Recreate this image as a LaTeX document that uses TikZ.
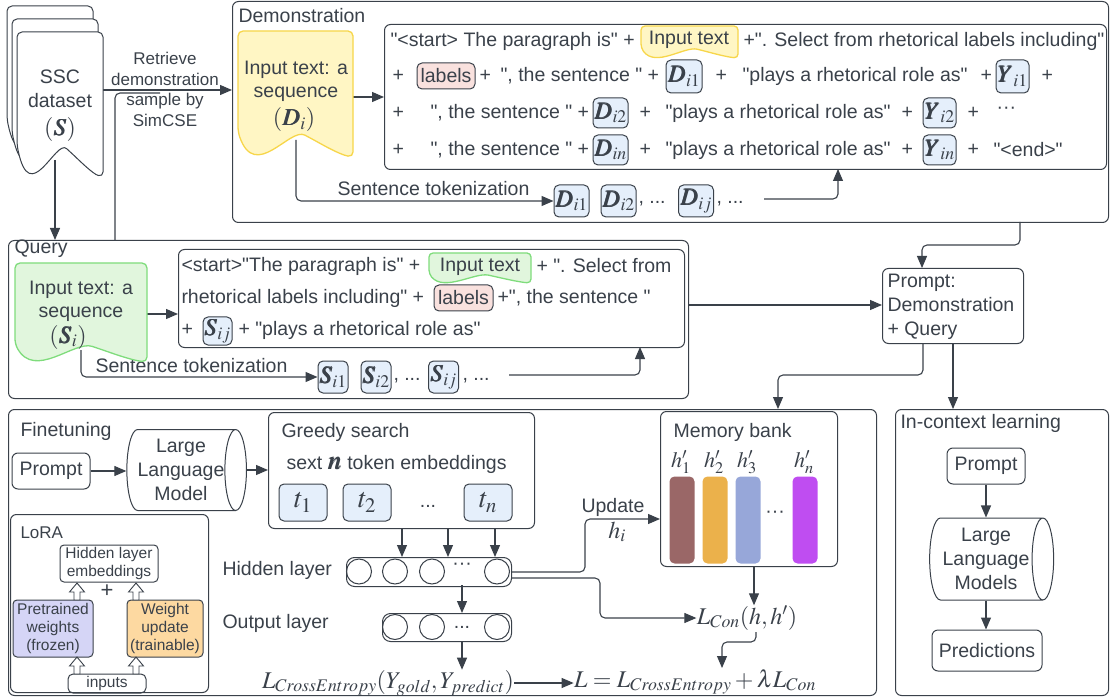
\documentclass[tikz,border=0pt]{standalone}
\usepackage{mathptmx}
\usepackage{bm}
\usepackage{fontspec}
\setmainfont{Liberation Sans}[Ligatures=TeXOff]
\usetikzlibrary{arrows.meta,shapes.geometric,calc}
\definecolor{ink}{HTML}{3A414A}
\definecolor{yfill}{HTML}{FFF6C4}
\definecolor{ybord}{HTML}{F7D64A}
\definecolor{gfill}{HTML}{E1F6DD}
\definecolor{gbord}{HTML}{7FDC7C}
\definecolor{tokfill}{HTML}{E5EFFB}
\definecolor{labfill}{HTML}{F9E1DE}
\definecolor{pfill}{HTML}{D5D5F6}
\definecolor{wfill}{HTML}{FDD9A1}
\definecolor{barA}{HTML}{9A6767}
\definecolor{barB}{HTML}{EBB14B}
\definecolor{barC}{HTML}{97A7D9}
\definecolor{barD}{HTML}{BF4DF1}
% document shape: style, x0, ytop, x1, y right corner, depth of wave
\newcommand{\docshape}[6]{\path[#1] (#2,#3) -- (#4,#3) -- (#4,#5) .. controls ({#2+0.88*(#4-#2)},{#5-0.1*#6}) and ({#2+0.72*(#4-#2)},{#5-0.53*#6}) .. ({#2+0.62*(#4-#2)},{#5-0.78*#6}) .. controls ({#2+0.45*(#4-#2)},{#5-1.2*#6}) and ({#2+0.15*(#4-#2)},{#5+1.0*#6}) .. (#2,{#5-#6}) -- cycle;}
\tikzset{fatup/.pic={\path[draw=ink,fill=white,line width=0.9pt] (-3,0) -- (-3,-8) -- (-7.5,-8) -- (0,-17) -- (7.5,-8) -- (3,-8) -- (3,0) -- cycle;}}
\begin{document}
\begin{tikzpicture}[x=1pt,y=-1pt,color=ink,line width=1pt,
  font=\fontsize{19.5}{23}\selectfont,
  box/.style={draw=ink,rounded corners=6pt,line width=1pt,inner sep=0pt},
  conn/.style={draw=ink,line width=1.1pt,rounded corners=5pt,-{Triangle[length=12pt,width=10pt]}},
  line/.style={draw=ink,line width=1.1pt,rounded corners=5pt},
  lab/.style={inner sep=0pt,anchor=west},
  tag/.style={draw=ink,rounded corners=5pt,line width=1pt,inner sep=0pt},
  tok/.style={draw=ink,fill=tokfill,rounded corners=5pt,line width=1pt,inner sep=0pt,font=\fontsize{24}{24}\selectfont},
  tokt/.style={tok,font=\fontsize{28}{28}\selectfont,minimum width=48pt,minimum height=37pt},
  circ/.style={circle,draw=ink,line width=1pt,minimum size=25pt,inner sep=0pt},
  bar/.style={rounded corners=5pt,minimum width=25pt,minimum height=87pt,anchor=north west,inner sep=0pt},
  cyl/.style={cylinder,draw=ink,line width=1pt,fill=white,shape aspect=0.35,inner sep=0pt,align=center,font=\fontsize{19.5}{24}\selectfont},
  small/.style={font=\fontsize{15.5}{18}\selectfont,align=center},
  mth/.style={inner sep=0pt,font=\fontsize{24}{26}\selectfont}]
\useasboundingbox (0,0) rectangle (1110,700);

% ---------- frames ----------
\node[box,anchor=north west,minimum width=876pt,minimum height=221pt] (demo) at (232,1) {};
\node[box,anchor=north west,minimum width=722pt,minimum height=145pt] (dp) at (384,24) {};
\node[box,anchor=north west,minimum width=680pt,minimum height=158pt] (query) at (8,240) {};
\node[box,anchor=north west,minimum width=506pt,minimum height=98pt] (qp) at (178,249) {};
\node[box,anchor=north west,minimum width=141pt,minimum height=75pt] (pq) at (882,268) {};
\node[box,anchor=north west,minimum width=868pt,minimum height=286pt] (ft) at (8,409) {};
\node[box,anchor=north west,minimum width=213pt,minimum height=286pt] (ic) at (895,409) {};
\node[box,anchor=north west,minimum width=198pt,minimum height=178pt] (lora) at (10,514) {};
\node[box,anchor=north west,minimum width=266pt,minimum height=116pt] (greedy) at (268,412) {};
\node[box,anchor=north west,minimum width=177pt,minimum height=155pt] (mb) at (660,411) {};

% ---------- titles ----------
\node[lab] (demoT) at (238,16) {Demonstration};
\node[lab] (queryT) at (14,249) {Query};
\node[lab] (ftT) at (20,431) {Finetuning};
\node[lab] (icT) at (900,423) {In-context learning};
\node[lab,font=\fontsize{17}{20}\selectfont] (loT) at (20,533) {LoRA};
\node[lab] (gT) at (281,432) {Greedy search};
\node[lab] (mT) at (673,432) {Memory bank};
\node[lab,anchor=north west,align=left,font=\fontsize{19.5}{24}\selectfont] (pqt) at (887,274) {Prompt:\\Demonstration\\+ Query};
\node[align=center,font=\fontsize{17}{20.5}\selectfont] (retr) at (165,89.5) {Retrieve\\demonstration\\sample by\\SimCSE};

% ---------- demonstration prompt rows ----------
\node[lab] (r1a) at (390,41) {"<start> The paragraph is" +};
\node[lab] (r1b) at (743,41) {+". Select from rhetorical labels including"};
\node[lab] (r2a) at (392,76) {+};
\node[tag,fill=labfill,minimum width=58pt,minimum height=26pt] (r2lab) at (446,76) {labels};
\node[lab] (r2b) at (479,76) {+};
\node[lab] (r2b2) at (500,76) {", the sentence " +};
\node[tok,minimum width=36pt,minimum height=33pt] (r2d) at (684,76.5) {$\bm{D}_{i1}$};
\node[lab] (r2c) at (715,76) {+};
\node[lab] (r2e) at (742,76) {"plays a rhetorical role as"};
\node[lab] (r2f) at (980,76) {+};
\node[tok,minimum width=33pt,minimum height=33pt] (r2y) at (1012.5,76.5) {$\bm{Y}_{i1}$};
\node[lab] (r2g) at (1041,76) {+};
\node[lab] (r3a) at (392,113) {+};
\node[lab] (r3b) at (430,113) {", the sentence " +};
\node[tok,minimum width=35pt,minimum height=30pt] (r3d) at (610.5,113) {$\bm{D}_{i2}$};
\node[lab] (r3c) at (639,113) {+};
\node[lab] (r3e) at (665,113) {"plays a rhetorical role as"};
\node[lab] (r3f) at (901,113) {+};
\node[tok,minimum width=33pt,minimum height=30pt] (r3y) at (939.5,113) {$\bm{Y}_{i2}$};
\node[lab] (r3g) at (967,113) {+};
\node[lab] (r3h) at (996,110) {···};
\node[lab] (r4a) at (392,150) {+};
\node[lab] (r4b) at (430,150) {", the sentence " +};
\node[tok,minimum width=35pt,minimum height=30pt] (r4d) at (610.5,150) {$\bm{D}_{in}$};
\node[lab] (r4c) at (639,150) {+};
\node[lab] (r4e) at (665,150) {"plays a rhetorical role as"};
\node[lab] (r4f) at (901,150) {+};
\node[tok,minimum width=33pt,minimum height=30pt] (r4y) at (939.5,150) {$\bm{Y}_{in}$};
\node[lab] (r4g) at (967,150) {+};
\node[lab] (r4h) at (993,150) {"<end>"};

% demonstration tokenization
\node[lab,anchor=base west] (dtl) at (337,196) {Sentence tokenization};
\node[tok,minimum width=35pt,minimum height=32pt] (dt1) at (571.5,201) {$\bm{D}_{i1}$};
\node[tok,minimum width=35pt,minimum height=32pt] (dt2) at (618.5,201) {$\bm{D}_{i2}$};
\node[lab] (dtc1) at (638,204) {, ...};
\node[tok,minimum width=35pt,minimum height=32pt] (dt3) at (696,201) {$\bm{D}_{ij}$};
\node[lab] (dtc2) at (716,204) {, ...};

% ---------- query prompt rows ----------
\node[lab] (q1a) at (181,266) {<start>"The paragraph is" +};
\node[lab] (q1b) at (536,266) {+ ". Select from};
\node[lab] (q2a) at (181,298) {rhetorical labels including" +};
\node[tag,fill=labfill,minimum width=59pt,minimum height=26pt] (q2lab) at (463.5,298) {labels};
\node[lab] (q2b) at (497,298) {+", the sentence "};
\node[lab] (q3a) at (181,330) {+};
\node[tok,minimum width=29pt,minimum height=28pt] (q3s) at (217.5,331) {$\bm{S}_{ij}$};
\node[lab] (q3b) at (238,330) {+ "plays a rhetorical role as"};

% query tokenization
\node[lab,anchor=base west] (stl) at (95,372) {Sentence tokenization};
\node[tok,minimum width=30pt,minimum height=32pt] (st1) at (333,377) {$\bm{S}_{i1}$};
\node[tok,minimum width=30pt,minimum height=32pt] (st2) at (376,377) {$\bm{S}_{i2}$};
\node[lab] (stc1) at (393,381) {, ...};
\node[tok,minimum width=30pt,minimum height=32pt] (st3) at (443.5,377) {$\bm{S}_{ij}$};
\node[lab] (stc2) at (462,381) {, ...};

% ---------- finetuning ----------
\node[box,minimum width=78pt,minimum height=36pt] (pr1) at (51,471) {Prompt};
\node[cyl,minimum height=116pt,minimum width=81pt] (llm1) at (181,470) {Large\\Language\\Model};
\node[lab] (gS) at (286,464) {sext {\fontsize{26}{26}\selectfont$\bm{n}$} token embeddings};
\node[tokt] (t1) at (303,502.5) {$t_1$};
\node[tokt] (t2) at (367,502.5) {$t_2$};
\node (tdots) at (428,506) {...};
\node[tokt] (tn) at (488,502.5) {$t_n$};

\node[lab] (hT) at (222,570) {Hidden layer};
\node[box,rounded corners=8pt,anchor=north west,minimum width=165pt,minimum height=29pt] (hb) at (346,557) {};
\node[circ] (h1) at (359,571.5) {};
\node[circ] (h2) at (395,571.5) {};
\node[circ] (h3) at (432,571.5) {};
\node (hdots) at (462,566) {···};
\node[circ] (h4) at (497,571.5) {};
\node[lab] (oT) at (222,623) {Output layer};
\node[box,rounded corners=8pt,anchor=north west,minimum width=129pt,minimum height=28pt] (ob) at (382,613) {};
\node[circ] (o1) at (395,627) {};
\node[circ] (o2) at (432,627) {};
\node (odots) at (462,627) {...};
\node[circ] (o3) at (497,627) {};

\node[mth] (lce) at (388,683) {$L_{CrossEntropy}(Y_{gold},Y_{predict})$};
\node[mth] (ltot) at (695,682) {$L=L_{CrossEntropy}+\lambda L_{Con}$};
\node[mth] (lcon) at (747,618) {$L_{Con}(h,h')$};
\node (upd) at (613,507) {Update};
\node[mth] (hi) at (617,532) {$h_i$};

% memory bank
\node[bar,fill=barA] (m1) at (669,476) {};
\node[bar,fill=barB] (m2) at (702,476) {};
\node[bar,fill=barC] (m3) at (735,476) {};
\node (mdots) at (775,514) {···};
\node[bar,fill=barD] (m4) at (792,476) {};
\node[mth,font=\fontsize{22}{22}\selectfont] (mh1) at (681,462) {$h'_1$};
\node[mth,font=\fontsize{22}{22}\selectfont] (mh2) at (714,462) {$h'_2$};
\node[mth,font=\fontsize{22}{22}\selectfont] (mh3) at (747,462) {$h'_3$};
\node[mth,font=\fontsize{22}{22}\selectfont] (mh4) at (804,462) {$h'_n$};

% LoRA
\node[box,rounded corners=4pt,small,minimum width=98pt,minimum height=37pt] (hemb) at (109,563.5) {Hidden layer\\embeddings};
\node[font=\fontsize{22}{22}\selectfont] (plus) at (107,591) {+};
\node[box,rounded corners=4pt,small,fill=pfill,minimum width=80pt,minimum height=57pt] (pw) at (53,628.5) {Pretrained\\weights\\(frozen)};
\node[box,rounded corners=4pt,small,fill=wfill,minimum width=76pt,minimum height=57pt] (wu) at (165,628.5) {Weight\\update\\(trainable)};
\node[box,rounded corners=5pt,small,minimum width=78pt,minimum height=19pt] (inp) at (107,683.5) {inputs};
\pic at (77,674) {fatup};
\pic at (136,674) {fatup};
\pic at (77,600) {fatup};
\pic at (136,600) {fatup};

% in-context
\node[box,minimum width=78pt,minimum height=36pt] (pr2) at (986,466) {Prompt};
\node[cyl,minimum height=124pt,minimum width=82pt] (llm2) at (986,559) {Large\\Language\\Models};
\node[box,minimum width=110pt,minimum height=41pt] (pred) at (987,650.5) {Predictions};

% ---------- connectors ----------
\coordinate (sscR) at (103,90);
\draw[conn] (sscR) -- (sscR -| demo.west);
\coordinate (qTop) at (115,240);
\coordinate (qJ) at (160,93);
\draw[line] (qTop) |- (qJ);
\coordinate (sscB) at (55,160);
\draw[conn] (sscB) -- (sscB |- query.north);
\coordinate (yR) at (350,97);
\draw[conn] (yR) -- (yR -| dp.west);
\coordinate (yB) at (296,140);
\draw[conn] (yB) |- (dt1.west);
\coordinate (dtE) at (764,199);
\coordinate (dpIn) at (838,169);
\draw[conn] (dtE) -| (dpIn);
\coordinate (dOut) at (1020,222);
\coordinate (pqIn) at (922,268);
\draw[conn] (dOut) -- ++(0,23) -| (pqIn);
\coordinate (qOut) at (688,305);
\draw[conn] (qOut) -- (qOut -| pq.west);
\coordinate (gR) at (145,314);
\draw[conn] (gR) -- (gR -| qp.west);
\coordinate (gB) at (81,350);
\draw[conn] (gB) |- (st1.west);
\coordinate (stE) at (509,375);
\coordinate (qpIn) at (640,347);
\draw[conn] (stE) -| (qpIn);
\coordinate (pqO1) at (923,343);
\coordinate (ftIn) at (778,409);
\draw[conn] (pqO1) -- ++(0,32) -| (ftIn);
\coordinate (pqO2) at (953,343);
\draw[conn] (pqO2) -- (pqO2 |- ic.north);

\draw[conn] (pr1.east) -- (pr1.east -| llm1.west);
\draw[conn] (llm1.east) -- (llm1.east -| greedy.west);
\coordinate (ga1) at (402,528);
\coordinate (ga2) at (448,528);
\coordinate (ga3) at (495,528);
\draw[conn] (ga1) -- (ga1 |- hb.north);
\draw[conn] (ga2) -- (ga2 |- hb.north);
\draw[conn] (ga3) -- (ga3 |- hb.north);
\coordinate (hbO) at (462,585);
\draw[conn] (hbO) -- (hbO |- ob.north);
\coordinate (obO) at (462,641);
\draw[conn] (obO) -- (obO |- lce.north);
\draw[conn] (lce.east) -- (lce.east -| ltot.west);
\coordinate (hbR1) at (511,572);
\coordinate (mbIn) at (660,519);
\draw[conn] (hbR1) -- ++(74,0) |- (mbIn);
\coordinate (hbR2) at (511,578);
\draw[conn] (hbR2) -- ++(89,0) |- (lcon.west);
\coordinate (mbO) at (754,566);
\draw[conn] (mbO) -- (mbO |- lcon.north);
\coordinate (lcO) at (756,632);
\coordinate (ltIn) at (722,668);
\draw[conn] (lcO) -- ++(0,10) -| (ltIn);
\draw[conn] (pr2.south) -- (pr2.south |- llm2.north);
\draw[conn] (llm2.south) -- (llm2.south |- pred.north);

% ---------- documents ----------
\docshape{draw=ink,fill=white,line width=1pt,rounded corners=5pt}{7}{6}{93}{151}{32}
\docshape{draw=ink,fill=white,line width=1pt,rounded corners=5pt}{12}{19}{98}{164}{32}
\docshape{draw=ink,fill=white,line width=1pt,rounded corners=5pt}{17}{32}{103}{177}{32}
\node[align=center,font=\fontsize{19.5}{24}\selectfont] (ssc) at (60,89) {SSC\\dataset};
\node[mth] (sscm) at (60,130) {$(\bm{S})$};
\docshape{draw=ybord,fill=yfill,line width=1.3pt,rounded corners=5pt}{238}{31}{353}{157}{25}
\node[align=center] (ytxt) at (296,81.5) {Input text: a\\sequence};
\node[mth] (ym) at (294,120) {$(\bm{D}_i)$};
\docshape{draw=gbord,fill=gfill,line width=1.3pt,rounded corners=5pt}{15}{263}{147}{362}{18}
\node[align=center] (gtxt) at (81,301.5) {Input text: a\\sequence};
\node[mth] (gm) at (68,337) {$(\bm{S}_i)$};
\docshape{draw=ybord,fill=yfill,line width=1.3pt,rounded corners=4pt}{641}{26}{738}{58}{10}
\node (r1tag) at (689,40) {Input text};
\docshape{draw=gbord,fill=gfill,line width=1.3pt,rounded corners=4pt}{429}{253}{531}{283}{9}
\node (q1tag) at (480,267) {Input text};
\end{tikzpicture}
\end{document}
